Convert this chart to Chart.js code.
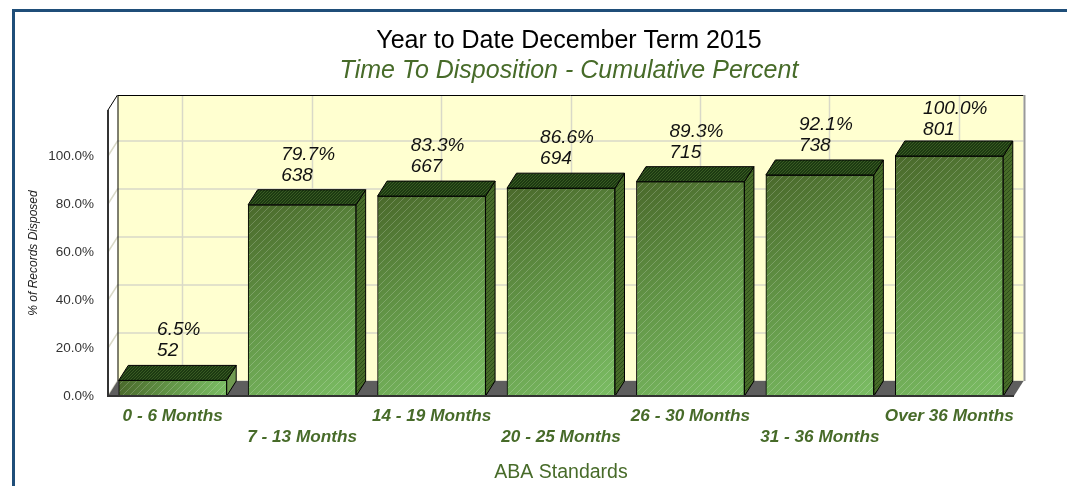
<!DOCTYPE html>
<html>
<head>
<meta charset="utf-8">
<title>Time To Disposition</title>
<script src="https://cdn.jsdelivr.net/npm/chart.js@4/dist/chart.umd.min.js"></script>
<style>
    html, body { margin: 0; padding: 0; background: #fff; overflow: hidden; width: 1067px; height: 486px; }
    #frame { position: absolute; left: 12px; top: 9px; width: 1055px; height: 477px; border-top: 3px solid #1f4e79; border-left: 3px solid #1f4e79; box-sizing: border-box; }
    #chart { position: absolute; left: 0; top: 0; }
</style>
</head>
<body>
<div id="frame"></div>
<canvas id="chart" width="1138" height="486"></canvas>
<script>
const categories = ['0 - 6 Months', '7 - 13 Months', '14 - 19 Months', '20 - 25 Months', '26 - 30 Months', '31 - 36 Months', 'Over 36 Months'];
const percentValues = [6.5, 79.7, 83.3, 86.6, 89.3, 92.1, 100.0];
const recordCounts = [52, 638, 667, 694, 715, 738, 801];

const GREEN = '#476b29';
const FONT = '"Liberation Sans", Arial, sans-serif';
const DEPTH_X = 9.5;
const DEPTH_Y = 15;

function hatch(size, back, line, width) {
    const c = document.createElement('canvas');
    c.width = size; c.height = size;
    const g = c.getContext('2d');
    if (back) { g.fillStyle = back; g.fillRect(0, 0, size, size); }
    g.strokeStyle = line;
    g.lineWidth = width;
    g.beginPath();
    g.moveTo(-1, size + 1); g.lineTo(size + 1, -1);
    g.moveTo(-1, 1); g.lineTo(1, -1);
    g.moveTo(size - 1, size + 1); g.lineTo(size + 1, size - 1);
    g.stroke();
    return g.createPattern(c, 'repeat');
}

function poly(ctx, points, fill, stroke) {
    ctx.beginPath();
    points.forEach(function (p, i) { if (i) ctx.lineTo(p[0], p[1]); else ctx.moveTo(p[0], p[1]); });
    ctx.closePath();
    if (fill) { ctx.fillStyle = fill; ctx.fill(); }
    if (stroke) { ctx.strokeStyle = stroke; ctx.lineWidth = 1; ctx.stroke(); }
}

function barGradient(context) {
    const chart = context.chart;
    if (!chart.chartArea || context.dataIndex === undefined) return GREEN;
    const half = 54;
    const cx = chart.scales.x.getPixelForValue(context.dataIndex);
    const top = chart.scales.y.getPixelForValue(percentValues[context.dataIndex]);
    const base = chart.scales.y.getPixelForValue(0);
    if (!isFinite(cx) || !isFinite(top) || !isFinite(base)) return GREEN;
    const g = chart.ctx.createLinearGradient(cx - half, top, cx + half, base);
    g.addColorStop(0, '#4a692b');
    g.addColorStop(0.5, '#639748');
    g.addColorStop(1, '#7bbd64');
    return g;
}

// back wall, floor and the grid sit behind the bars
const wallPlugin = {
    id: 'wall',
    beforeDatasetsDraw(chart) {
        const ctx = chart.ctx;
        const a = chart.chartArea;
        const y = chart.scales.y;
        const x = chart.scales.x;
        ctx.save();
        poly(ctx, [[a.left + DEPTH_X, a.top - DEPTH_Y], [a.right + DEPTH_X, a.top - DEPTH_Y], [a.right + DEPTH_X, a.bottom - DEPTH_Y], [a.left + DEPTH_X, a.bottom - DEPTH_Y]], '#ffffd0');
        ctx.lineWidth = 1.5;
        ctx.strokeStyle = '#d9d9c8';
        y.ticks.forEach(function (t) {
            const py = y.getPixelForValue(t.value);
            ctx.beginPath();
            ctx.moveTo(a.left, py);
            ctx.lineTo(a.left + DEPTH_X, py - DEPTH_Y);
            ctx.lineTo(a.right + DEPTH_X, py - DEPTH_Y);
            ctx.stroke();
        });
        categories.forEach(function (c, i) {
            const px = Math.round(x.getPixelForValue(i) + DEPTH_X) + 0.5;
            ctx.beginPath();
            ctx.moveTo(px, a.top - DEPTH_Y);
            ctx.lineTo(px, a.bottom - DEPTH_Y);
            ctx.stroke();
        });
        poly(ctx, [[a.left, a.bottom], [a.right, a.bottom], [a.right + DEPTH_X, a.bottom - DEPTH_Y], [a.left + DEPTH_X, a.bottom - DEPTH_Y]], '#5e5e5e');
        ctx.lineWidth = 1;
        ctx.strokeStyle = '#000';
        ctx.beginPath();
        ctx.moveTo(a.left + DEPTH_X + 0.5, a.bottom - DEPTH_Y);
        ctx.lineTo(a.left + DEPTH_X + 0.5, a.top - DEPTH_Y + 0.5);
        ctx.lineTo(a.right + DEPTH_X, a.top - DEPTH_Y + 0.5);
        ctx.moveTo(a.left, a.top);
        ctx.lineTo(a.left + DEPTH_X, a.top - DEPTH_Y);
        ctx.stroke();
        ctx.strokeStyle = '#999';
        ctx.lineWidth = 2;
        ctx.beginPath();
        ctx.moveTo(a.right + DEPTH_X + 1, a.top - DEPTH_Y);
        ctx.lineTo(a.right + DEPTH_X + 1, a.bottom - DEPTH_Y);
        ctx.stroke();
        ctx.restore();
    },
    afterDatasetsDraw(chart) {
        const ctx = chart.ctx;
        const a = chart.chartArea;
        const frontHatch = hatch(7, null, 'rgba(255,255,255,0.2)', 1);
        const sideHatch = hatch(4, '#486c29', 'rgba(20,50,10,0.5)', 1);
        const topHatch = hatch(3, '#1d3a12', 'rgba(80,120,50,0.55)', 1);
        ctx.save();
        chart.getDatasetMeta(0).data.forEach(function (bar, i) {
            const half = bar.width / 2;
            const l = bar.x - half, r = bar.x + half, t = bar.y, b = bar.base;
            ctx.fillStyle = frontHatch;
            ctx.fillRect(l + 1, t + 1, r - l - 2, b - t - 2);
            poly(ctx, [[r, t], [r + DEPTH_X, t - DEPTH_Y], [r + DEPTH_X, b - DEPTH_Y], [r, b]], i === 0 ? '#6f9a50' : sideHatch, '#000');
            poly(ctx, [[l, t], [r, t], [r + DEPTH_X, t - DEPTH_Y], [l + DEPTH_X, t - DEPTH_Y]], topHatch, '#000');
            // labels, the tallest one is held inside the wall
            const pct = percentValues[i].toFixed(1) + '%';
            ctx.font = 'italic 19px ' + FONT;
            ctx.fillStyle = '#111';
            ctx.textAlign = 'left';
            ctx.textBaseline = 'alphabetic';
            const left = bar.x + 6 - ctx.measureText(pct).width / 2;
            const countY = Math.max(t - 24, 135);
            ctx.fillText(pct, left, countY - 21);
            ctx.fillText(String(recordCounts[i]), left, countY);
        });
        // axis lines in front
        ctx.strokeStyle = '#333';
        ctx.lineWidth = 2;
        ctx.beginPath();
        ctx.moveTo(a.left, a.top);
        ctx.lineTo(a.left, a.bottom);
        ctx.lineTo(a.right, a.bottom);
        ctx.stroke();
        ctx.restore();
    }
};

new Chart(document.getElementById('chart'), {
    type: 'bar',
    data: {
        labels: categories,
        datasets: [{
            data: percentValues,
            backgroundColor: barGradient,
            borderColor: '#000',
            borderWidth: 1,
            barThickness: 108,
            yAxisID: 'y'
        }]
    },
    options: {
        responsive: false,
        animation: false,
        plugins: {
            legend: { display: false },
            tooltip: { enabled: false },
            title: {
                display: true,
                text: 'Year to Date December Term 2015',
                color: '#000',
                font: { family: FONT, size: 25, weight: 'normal' },
                padding: { top: 26, bottom: 0 }
            },
            subtitle: {
                display: true,
                text: 'Time To Disposition - Cumulative Percent',
                color: GREEN,
                font: { family: FONT, size: 25, style: 'italic', weight: 'normal' },
                padding: { top: 0, bottom: 24 }
            }
        },
        scales: {
            x: {
                grid: { display: false },
                border: { display: false },
                afterFit: function (scale) { scale.height = 90; },
                ticks: {
                    autoSkip: false,
                    maxRotation: 0,
                    minRotation: 0,
                    padding: 2,
                    color: GREEN,
                    font: { family: FONT, size: 17.2, style: 'italic', weight: 'bold', lineHeight: 1.22 },
                    callback: function (value, index) {
                        return index % 2 ? ['', categories[index]] : categories[index];
                    }
                },
                title: {
                    display: true,
                    text: 'ABA Standards',
                    color: GREEN,
                    font: { family: FONT, size: 19.5, weight: 'normal' },
                    padding: { top: 0, bottom: 2 }
                }
            },
            y: {
                min: 0,
                max: 119.17,
                grid: { display: false },
                border: { display: false },
                afterFit: function (scale) { scale.width = 108; },
                ticks: {
                    stepSize: 20,
                    includeBounds: false,
                    padding: 6,
                    color: '#333',
                    font: { family: FONT, size: 13.5 },
                    callback: function (value) { return value.toFixed(1) + '%'; }
                },
                title: {
                    display: true,
                    text: '% of Records Disposed',
                    color: '#222',
                    font: { family: FONT, size: 12, style: 'italic' },
                    padding: { top: 26, bottom: 0 }
                }
            },
            // empty right axis keeps the plot clear of the extra canvas width so the titles centre where they should
            spacer: {
                position: 'right',
                grid: { display: false },
                border: { display: false },
                ticks: { display: false },
                afterFit: function (scale) { scale.width = 124; }
            }
        }
    },
    plugins: [wallPlugin]
});
</script>
</body>
</html>
